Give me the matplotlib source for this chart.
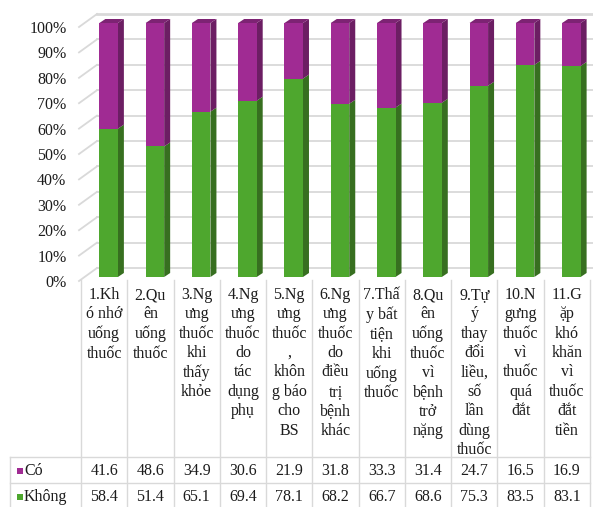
import matplotlib
matplotlib.use("Agg")
import matplotlib.pyplot as plt
from matplotlib.patches import Polygon, Rectangle
from matplotlib.lines import Line2D
from matplotlib import transforms

# ---- data -------------------------------------------------------------
categories = [
    "1.Kh\nó nhớ\nuống\nthuốc",
    "2.Qu\nên\nuống\nthuốc",
    "3.Ng\nưng\nthuốc\nkhi\nthấy\nkhỏe",
    "4.Ng\nưng\nthuốc\ndo\ntác\ndụng\nphụ",
    "5.Ng\nưng\nthuốc\n,\nkhôn\ng báo\ncho\nBS",
    "6.Ng\nưng\nthuốc\ndo\nđiều\ntrị\nbệnh\nkhác",
    "7.Thấ\ny bất\ntiện\nkhi\nuống\nthuốc",
    "8.Qu\nên\nuống\nthuốc\nvì\nbệnh\ntrở\nnặng",
    "9.Tự\ný\nthay\nđổi\nliều,\nsố\nlần\ndùng\nthuốc",
    "10.N\ngưng\nthuốc\nvì\nthuốc\nquá\nđắt",
    "11.G\nặp\nkhó\nkhăn\nvì\nthuốc\nđắt\ntiền",
]
co = [41.6, 48.6, 34.9, 30.6, 21.9, 31.8, 33.3, 31.4, 24.7, 16.5, 16.9]
khong = [58.4, 51.4, 65.1, 69.4, 78.1, 68.2, 66.7, 68.6, 75.3, 83.5, 83.1]
series_names = ["Có", "Không"]
yticks = list(range(0, 101, 10))

# ---- style ------------------------------------------------------------
FONT = "Liberation Serif"
FS = 11.5
TXT = "#1c1c1c"
GRID = "#d9d9d9"
GREEN, GREEN_SIDE = "#4ea72e", "#376f20"
PURPLE, PURPLE_SIDE, PURPLE_TOP = "#a02b93", "#6c1e63", "#7d2373"

W, H = 593, 507
fig = plt.figure(figsize=(W / 100, H / 100), dpi=100)
fig.patch.set_facecolor("white")

# front plane of the chart floor / axis
ax = fig.add_axes([81 / W, 1 - 281 / H, 509 / W, 254 / H])
n = len(categories)
ax.set_xlim(-0.5, n - 0.5)
ax.set_ylim(0, 100)
for s in ax.spines.values():
    s.set_visible(False)
ax.set_xticks([])
ax.set_yticks(yticks)
ax.set_yticklabels([f"{v}%" for v in yticks], fontfamily=FONT, fontsize=FS, color=TXT)
ax.tick_params(axis="y", length=0, pad=10.5)

ppx = 509 / n      # pixels per category
ppy = 254 / 100    # pixels per percent


def dx(px):
    return px / ppx


def dy(px):
    return px / ppy


# back wall gridlines with short perspective stubs on the left
wall_x, wall_y = dx(16), dy(13)
right_end = (W - 81) / ppx - 0.5
for v in yticks:
    lw = 2.0 if v == 100 else 1.3
    ax.add_line(Line2D([-0.5 - dx(2), -0.5 + wall_x], [v, v + wall_y],
                       color=GRID, lw=1.3, clip_on=False, zorder=1))
    ax.add_line(Line2D([-0.5 + wall_x, right_end], [v + wall_y, v + wall_y],
                       color=GRID, lw=lw, clip_on=False, zorder=1))

# 3D columns: front faces via bar(), right side and top as polygons
fx, fy = dx(4.5), dy(4)          # bar front face offset
sx, sy = dx(6), dy(4)            # bar depth
bw = dx(18.5)
xs = [i + fx for i in range(n)]
ax.bar(xs, khong, bw, bottom=fy, color=GREEN, zorder=3, clip_on=False, linewidth=0)
ax.bar(xs, co, bw, bottom=[fy + k for k in khong], color=PURPLE, zorder=3,
       clip_on=False, linewidth=0)
for x, k, c in zip(xs, khong, co):
    x0, x1 = x - bw / 2, x + bw / 2
    segs = [(fy, fy + k, GREEN_SIDE), (fy + k, fy + k + c, PURPLE_SIDE)]
    for lo, hi, col in segs:
        ax.add_patch(Polygon([(x1, lo), (x1 + sx, lo + sy), (x1 + sx, hi + sy), (x1, hi)],
                             closed=True, fc=col, ec="none", zorder=2.9, clip_on=False))
    top = fy + k + c
    ax.add_patch(Polygon([(x0, top), (x0 + sx, top + sy), (x1 + sx, top + sy), (x1, top)],
                         closed=True, fc=PURPLE_TOP, ec="none", zorder=2.9, clip_on=False))

# ---- data table under the chart ---------------------------------------
tb = transforms.blended_transform_factory(ax.transData, fig.transFigure)


def fy_px(p):
    return 1 - p / H


row_y = [471, 497]
for i, lab in enumerate(categories):
    ax.text(i, fy_px(287), lab, transform=tb, ha="center", va="top",
            fontfamily=FONT, fontsize=FS, color=TXT, linespacing=1.28)
    for vals, ry in zip([co, khong], row_y):
        ax.text(i, fy_px(ry), f"{vals[i]:.1f}", transform=tb, ha="center",
                va="center", fontfamily=FONT, fontsize=FS, color=TXT)

# table grid
for k in range(n + 1):
    fig.add_artist(Line2D([k - 0.5, k - 0.5], [fy_px(280), fy_px(H + 5)],
                          transform=tb, color=GRID, lw=1.0))
fig.add_artist(Line2D([10 / W, 10 / W], [fy_px(457), fy_px(H + 5)],
                      transform=fig.transFigure, color=GRID, lw=1.0))
for hy in (457, 483):
    fig.add_artist(Line2D([10 / W, 590 / W], [fy_px(hy), fy_px(hy)],
                          transform=fig.transFigure, color=GRID, lw=1.0))

# row headers with colour keys
for name, col, ry in zip(series_names, [PURPLE, GREEN], row_y):
    fig.add_artist(Rectangle((17 / W, fy_px(ry + 3)), 5.5 / W, 6 / H,
                             transform=fig.transFigure, fc=col, ec="none"))
    fig.text(24 / W, fy_px(ry), name, ha="left", va="center",
             fontfamily=FONT, fontsize=FS, color=TXT)

fig.savefig("out.png", dpi=100, facecolor="white")
